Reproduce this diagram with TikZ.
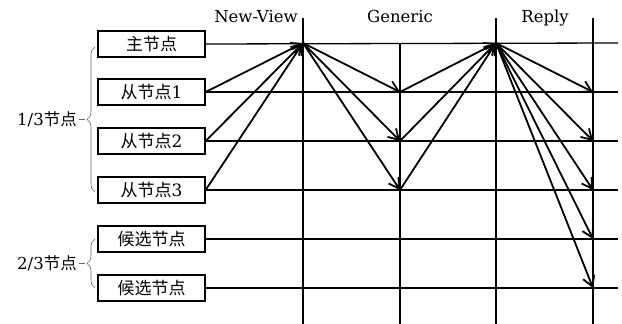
\documentclass[tikz,border=0pt]{standalone}
\usepackage{fontspec}
\setmainfont{DejaVu Serif}
\newfontfamily\cjk{Noto Sans CJK SC}
\usetikzlibrary{arrows.meta,decorations.pathreplacing}

\tikzset{
  nodebox/.style={draw, line width=1.3pt, minimum width=107pt, minimum height=26pt,
    inner sep=0pt, font=\fontsize{17}{19}\selectfont},
  grid/.style={line width=1.3pt},
  msg/.style={line width=1.8pt, -{Straight Barb[length=10pt,width=12pt,line width=1.8pt]}},
  phase/.style={font=\fontsize{16.5}{19}\selectfont, anchor=base},
  groupbrace/.style={draw=black!60, line width=0.6pt,
    decorate, decoration={brace, amplitude=8pt}},
  grouplabel/.style={font=\fontsize{16.5}{19}\selectfont, anchor=east, inner sep=0pt}
}

\begin{document}
\begin{tikzpicture}[x=1pt, y=-1pt]
  \useasboundingbox (0,0) rectangle (622,324);

  % replica boxes
  \node[nodebox] (m)  at (151.5,44)  {{\cjk 主节点}};
  \node[nodebox] (s1) at (151.5,92)  {{\cjk 从节点}1};
  \node[nodebox] (s2) at (151.5,141) {{\cjk 从节点}2};
  \node[nodebox] (s3) at (151.5,190) {{\cjk 从节点}3};
  \node[nodebox] (c1) at (151.5,239) {{\cjk 候选节点}};
  \node[nodebox] (c2) at (151.5,288) {{\cjk 候选节点}};

  % phase boundaries
  \coordinate (t1) at (303,18);  \coordinate (b1) at (303,324);
  \coordinate (t2) at (400,43);  \coordinate (b2) at (400,324);
  \coordinate (t3) at (496,18);  \coordinate (b3) at (496,324);
  \coordinate (t4) at (593,18);  \coordinate (b4) at (593,324);
  \draw[grid] (t1) -- (b1);
  \draw[grid] (t2) -- (b2);
  \draw[grid] (t3) -- (b3);
  \draw[grid] (t4) -- (b4);

  % timelines of the replicas
  \foreach \n/\y in {m/43, s1/92, s2/141, s3/190, c1/239, c2/288}{
    \coordinate (\n-end) at (618,\y);
    \draw[grid] (\n.east) -- (\n-end);
  }

  % phase names
  \node[phase] (pv) at (256,23) {New-View};
  \node[phase] (pg) at (400,23) {Generic};
  \node[phase] (pr) at (545,23) {Reply};

  % grid crossings used by the messages
  \coordinate (a0) at (303,43);
  \coordinate (g1) at (400,92);
  \coordinate (g2) at (400,141);
  \coordinate (g3) at (400,190);
  \coordinate (r0) at (496,43);
  \coordinate (e1) at (593,92);
  \coordinate (e2) at (593,141);
  \coordinate (e3) at (593,190);
  \coordinate (e4) at (593,239);
  \coordinate (e5) at (593,288);

  % New-View
  \draw[msg] (s1.east) -- (a0);
  \draw[msg] (s2.east) -- (a0);
  \draw[msg] (s3.east) -- (a0);
  % Generic
  \draw[msg] (a0) -- (g1);
  \draw[msg] (a0) -- (g2);
  \draw[msg] (a0) -- (g3);
  \draw[msg] (g1) -- (r0);
  \draw[msg] (g2) -- (r0);
  \draw[msg] (g3) -- (r0);
  % Reply
  \draw[msg] (r0) -- (e1);
  \draw[msg] (r0) -- (e2);
  \draw[msg] (r0) -- (e3);
  \draw[msg] (r0) -- (e4);
  \draw[msg] (r0) -- (e5);

  % groups of replicas
  \draw[groupbrace] (95,192) -- (95,47);
  \draw[groupbrace] (95,288) -- (95,239);
  \draw[black!60, line width=0.6pt] (79,119.5) -- (85,119.5);
  \draw[black!60, line width=0.6pt] (79,263.5) -- (85,263.5);
  \node[grouplabel] (g13) at (77,119.5) {1/3{\cjk 节点}};
  \node[grouplabel] (g23) at (77,263.5) {2/3{\cjk 节点}};
\end{tikzpicture}
\end{document}
